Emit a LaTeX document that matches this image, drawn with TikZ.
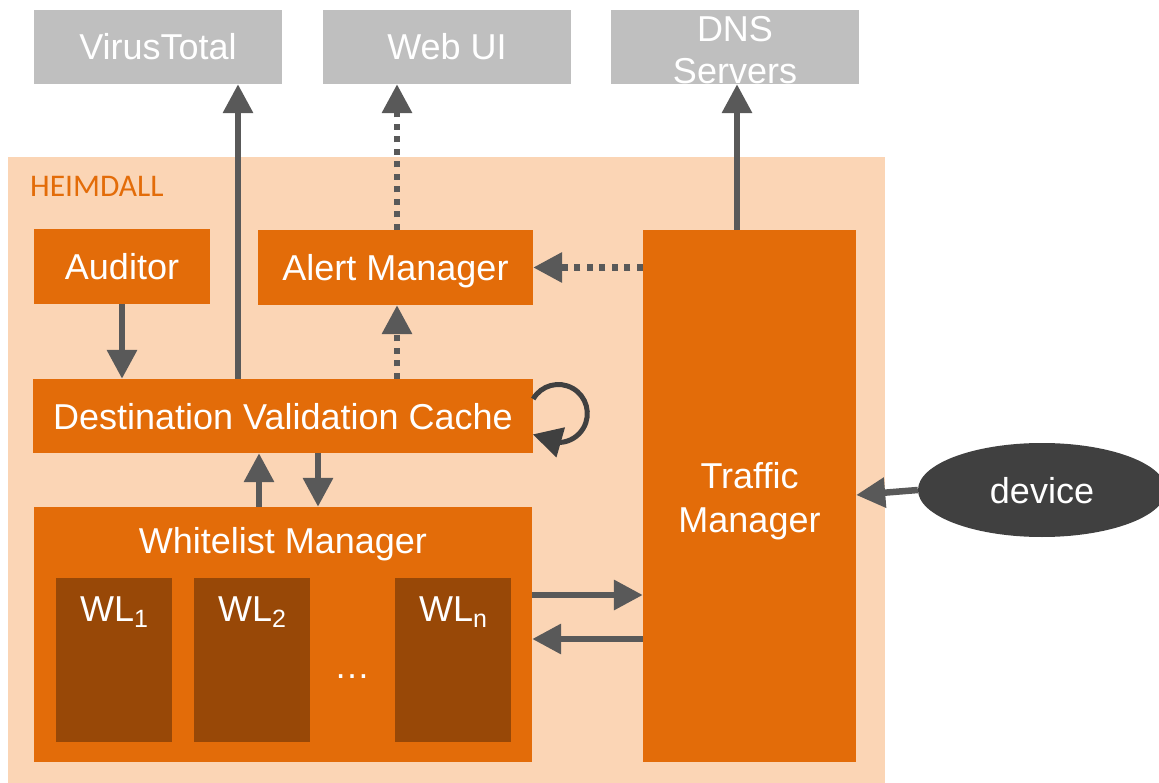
\documentclass[tikz,border=0pt]{standalone}
\usepackage{fontspec}
\setmainfont{Liberation Sans}
\newfontfamily\heimfont{Carlito}
\usetikzlibrary{arrows.meta,shapes.geometric,calc}
\definecolor{peach}{HTML}{FBD5B5}
\definecolor{accent}{HTML}{E36C09}
\definecolor{deepbrown}{HTML}{984807}
\definecolor{extgray}{HTML}{BFBFBF}
\definecolor{linkgray}{HTML}{595959}
\definecolor{loopgray}{HTML}{404040}
\newcommand\wlsub[1]{\raisebox{-6pt}{\fontsize{25}{25}\selectfont #1}}
\begin{document}
\begin{tikzpicture}[x=1pt,y=-1pt,
  txt/.style={text=white, font=\fontsize{36}{44}\selectfont, text height=26pt,
              text depth=0pt, inner sep=0pt, align=center},
  ext/.style={txt, fill=extgray, minimum width=248pt, minimum height=74pt},
  comp/.style={txt, fill=accent},
  wlbox/.style={fill=deepbrown, minimum width=116pt, minimum height=164pt, inner sep=0pt},
  link/.style={draw=linkgray, line width=6.5pt, -{Triangle[length=29pt,width=29pt]}},
  dotlink/.style={link, dash pattern=on 6pt off 6.5pt},
]
\useasboundingbox (0,0) rectangle (1159,783);

% HEIMDALL container
\node[fill=peach, minimum width=877pt, minimum height=626pt, inner sep=0pt,
      anchor=north west] (heimdall) at (8,157) {};
\node[anchor=base west, text=accent, inner sep=0pt,
      font=\heimfont\fontsize{31.5}{31.5}\selectfont] (title) at (30,197) {HEIMDALL};

% external services
\node[ext] (vt) at (158,47) {VirusTotal};
\node[ext] (web) at (447,47) {Web UI};
\node[ext, font=\fontsize{36}{42}\selectfont, text height=74pt] (dns) at (735,47) {DNS\\Servers};

% components
\node[comp, minimum width=176pt, minimum height=75pt] (aud) at (122,266.5) {Auditor};
\node[comp, minimum width=275pt, minimum height=75pt] (alert) at (395.5,267.5) {Alert Manager};
\node[comp, minimum width=500pt, minimum height=74pt] (dvc) at (283,416) {Destination Validation Cache};
\node[comp, minimum width=498pt, minimum height=255pt] (wm) at (283,634.5) {};
\node[txt, anchor=base] (wmlabel) at (283,553) {Whitelist Manager};
\node[comp, minimum width=213pt, minimum height=532pt, text height=73pt] (tm) at (749.5,496) {Traffic\\Manager};

% whitelists
\node[wlbox] (wl1) at (114,660) {};
\node[wlbox] (wl2) at (252,660) {};
\node[wlbox] (wln) at (453,660) {};
\node[txt, anchor=base] (wl1label) at ([yshift=-44pt]wl1.north) {WL\wlsub{1}};
\node[txt, anchor=base] (wl2label) at ([yshift=-44pt]wl2.north) {WL\wlsub{2}};
\node[txt, anchor=base] (wlnlabel) at ([yshift=-44pt]wln.north) {WL\wlsub{n}};
\node[txt, anchor=base] (dots) at (352,678) {…};

% client device
\node[ellipse, txt, fill=loopgray, minimum width=248pt, minimum height=94pt] (dev) at (1042,490) {device};

% connectors
\draw[link] ($(dvc.north)+(-45,0)$) -- ($(dvc.north |- vt.south)+(-45,0)$);
\draw[dotlink] ($(alert.north)+(1.5,0)$) -- ($(alert.north |- web.south)+(1.5,0)$);
\draw[dotlink] ($(alert.south |- dvc.north)+(1.5,0)$) -- ($(alert.south)+(1.5,0)$);
\draw[dotlink] (tm.west |- alert.east) -- (alert.east);
\draw[link] ($(dns.south |- tm.north)+(2,0)$) -- ($(dns.south)+(2,0)$);
\draw[link] (aud.south) -- (aud.south |- dvc.north);
\draw[link] ($(wm.north)+(-24,0)$) -- ($(dvc.south)+(-24,0)$);
\draw[link] ($(dvc.south)+(35,0)$) -- ($(wm.north)+(35,0)$);
\draw[link] ($(wm.east)+(0,-39.5)$) -- ($(tm.west |- wm.east)+(0,-39.5)$);
\draw[link] ($(tm.west |- wm.east)+(0,4.5)$) -- ($(wm.east)+(0,4.5)$);
\draw[link] (dev.west) -- ($(tm.east)+(0,-1)$);

% cache refresh loop
\draw[loopgray, line width=5pt, -{Triangle[length=29pt,width=30pt]}]
  ($(dvc.east)+(0,-17)$) arc[start angle=210, end angle=445, radius=29] -- ++(-28,-8);
\end{tikzpicture}
\end{document}
